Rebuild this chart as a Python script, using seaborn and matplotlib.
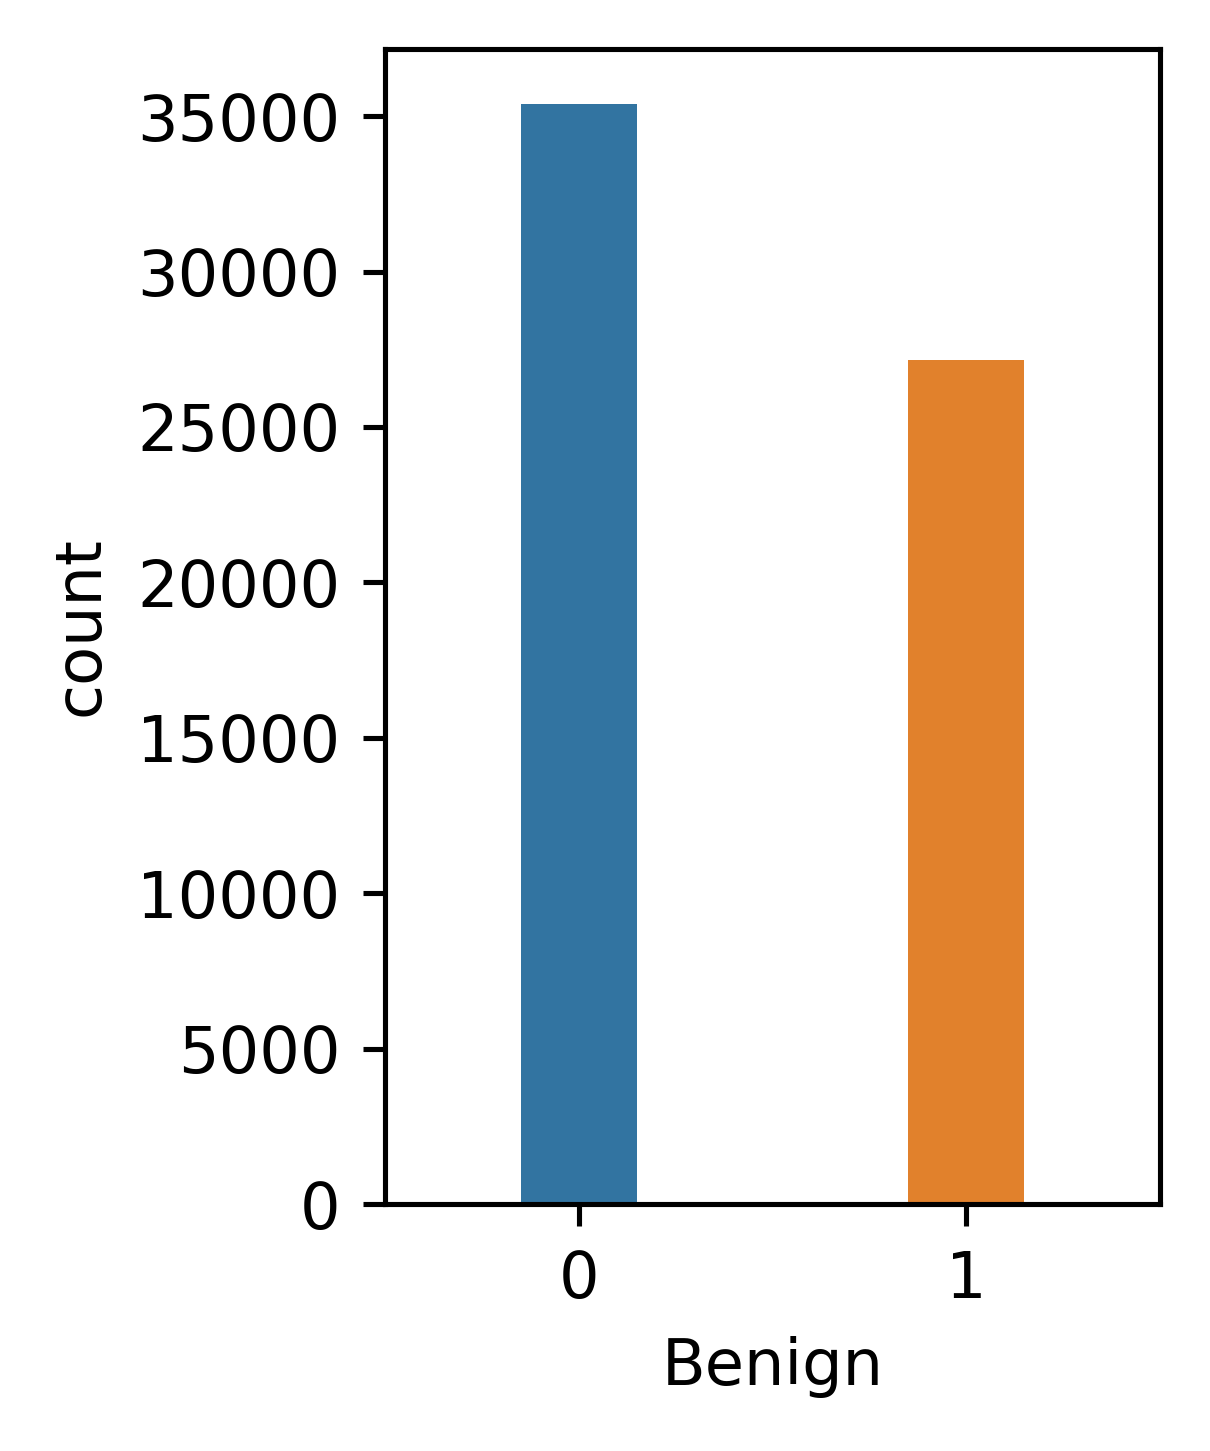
import pandas as pd
import matplotlib
matplotlib.use("Agg")
import matplotlib.pyplot as plt
import seaborn as sns

# valeurs
benign = [0, 1]
counts = [35390, 27140]

df = pd.DataFrame({"Benign": benign, "count": counts})

dpi = 460
fig = plt.figure(figsize=(1210 / dpi, 1451 / dpi), dpi=dpi)
ax = fig.add_axes([385 / 1210, 1 - 1204 / 1451, 775 / 1210, 1155 / 1451])

sns.barplot(data=df, x="Benign", y="count", hue="Benign",
            palette=["#1f77b4", "#ff7f0e"], width=0.3, legend=False, ax=ax)
ax.set_xlabel("Benign")
ax.set_ylabel("count")

plt.savefig("out.png", dpi=dpi)
